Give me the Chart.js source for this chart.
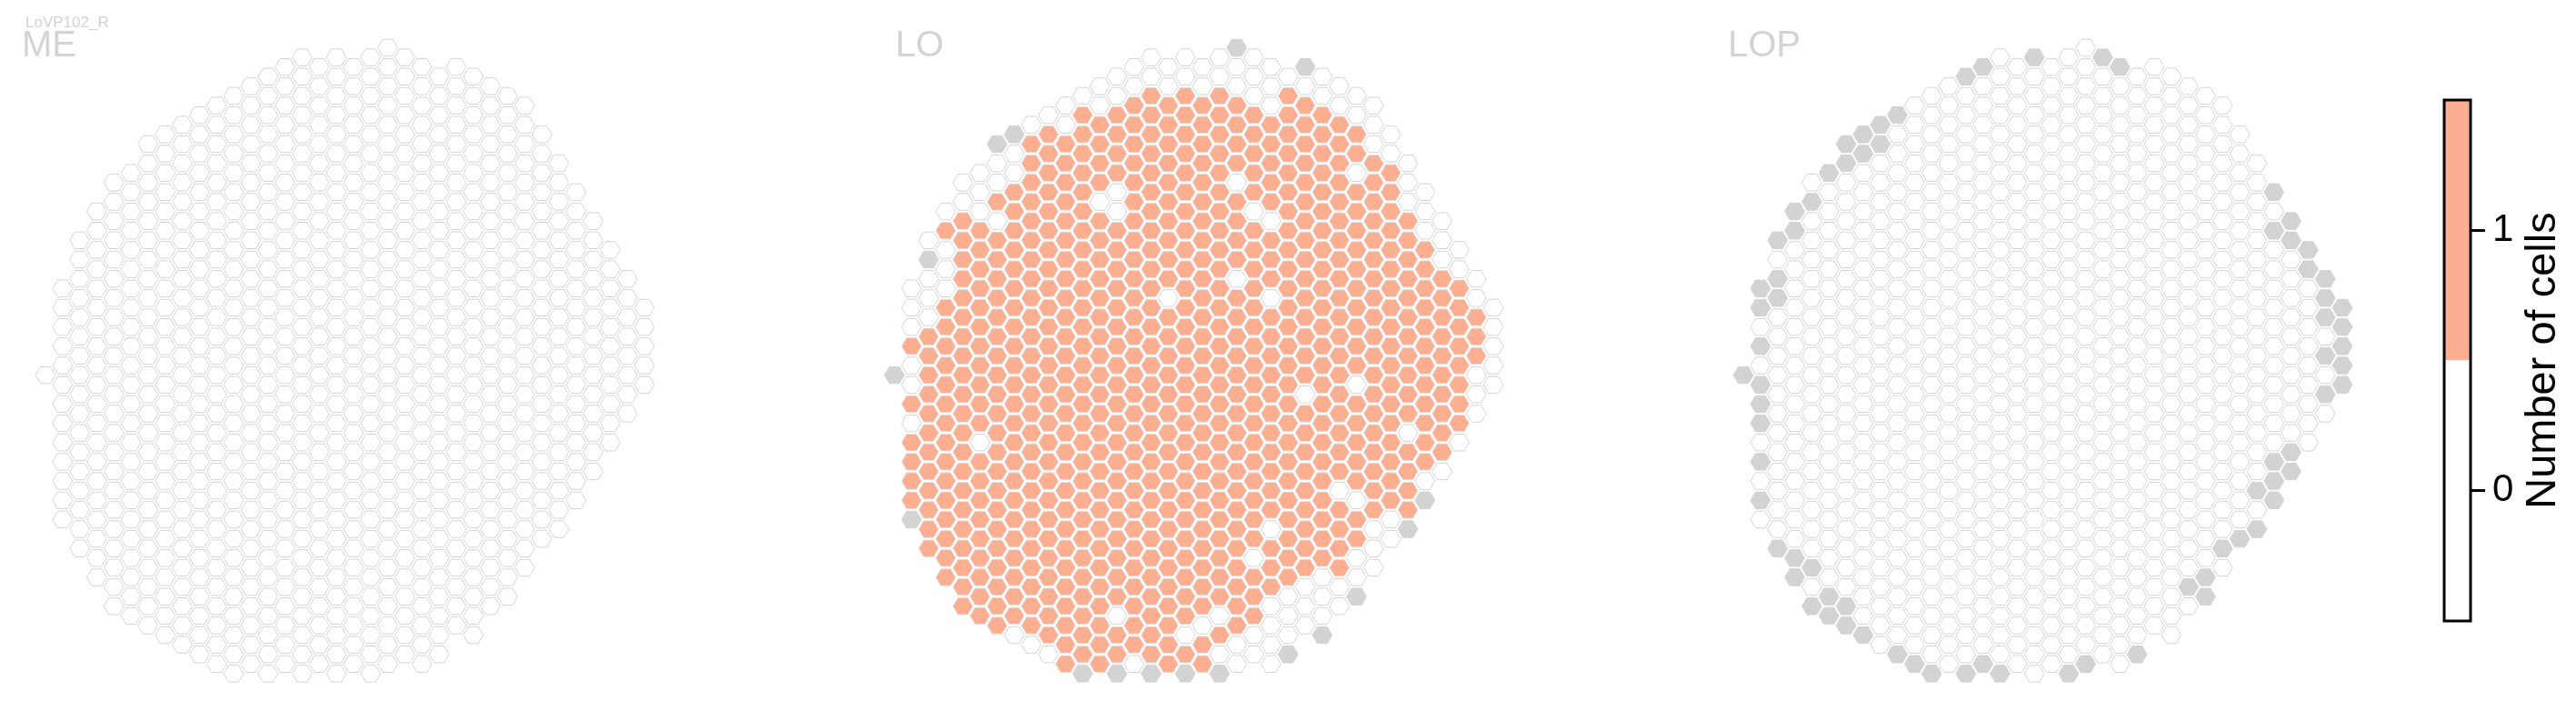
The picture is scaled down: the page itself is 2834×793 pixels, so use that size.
<!DOCTYPE html>
<html>
<head>
<meta charset="utf-8">
<title>LoVP102_R</title>
<script src="https://cdn.jsdelivr.net/npm/chart.js@4.4.1/dist/chart.umd.min.js"></script>
<style>
  body { margin: 0; background: #fff; }
  #wrap { position: relative; width: 2834px; height: 793px; overflow: hidden; }
  #wrap canvas { position: absolute; top: 0; }
</style>
</head>
<body>
<div id="wrap">
  <canvas id="panelME" width="780" height="793" style="left:0px"></canvas>
  <canvas id="panelLO" width="780" height="793" style="left:934px"></canvas>
  <canvas id="panelLOP" width="780" height="793" style="left:1868px"></canvas>
  <canvas id="colorbar" width="234" height="793" style="left:2600px"></canvas>
</div>
<script>
const neuron = 'LoVP102_R'
const panelNames = ['ME', 'LO', 'LOP']

// first (top) row of each hex column, doubled row index, columns left -> right
const colTop = [34, 25, 20, 17, 14, 13, 10, 9, 8, 7, 6, 5, 4, 3, 2, 1, 2, 1, 2, 1, 0, 1, 2, 3, 2, 3, 4, 5, 6, 9, 12, 15, 18, 21, 24, 27]

// one string per column, top -> bottom: 0 / 1 = number of cells, x = no data
// (spaces are only there to make counting easier)
const meCells = [
    '0',
    '00000 00000 000',
    '00000 00000 00000 00',
    '00000 00000 00000 00000',
    '00000 00000 00000 00000 000',
    '00000 00000 00000 00000 0000',
    '00000 00000 00000 00000 00000 0',
    '00000 00000 00000 00000 00000 00',
    '00000 00000 00000 00000 00000 000',
    '00000 00000 00000 00000 00000 0000',
    '00000 00000 00000 00000 00000 00000',
    '00000 00000 00000 00000 00000 00000 0',
    '00000 00000 00000 00000 00000 00000 0',
    '00000 00000 00000 00000 00000 00000 00',
    '00000 00000 00000 00000 00000 00000 00',
    '00000 00000 00000 00000 00000 00000 000',
    '00000 00000 00000 00000 00000 00000 00',
    '00000 00000 00000 00000 00000 00000 000',
    '00000 00000 00000 00000 00000 00000 00',
    '00000 00000 00000 00000 00000 00000 000',
    '00000 00000 00000 00000 00000 00000 000',
    '00000 00000 00000 00000 00000 00000 00',
    '00000 00000 00000 00000 00000 00000 00',
    '00000 00000 00000 00000 00000 00000 0',
    '00000 00000 00000 00000 00000 00000',
    '00000 00000 00000 00000 00000 00000',
    '00000 00000 00000 00000 00000 000',
    '00000 00000 00000 00000 00000 00',
    '00000 00000 00000 00000 00000',
    '00000 00000 00000 00000 00',
    '00000 00000 00000 00000',
    '00000 00000 00000 00',
    '00000 00000 0000',
    '00000 00000 0',
    '00000 000',
    '00000',
]

const loCells = [
    'x',
    '00010 01011 11x',
    '0x000 11111 11111 11',
    '01000 11111 11111 11111',
    '00111 11111 11111 11111 111',
    '00011 11111 11110 11111 1111',
    'x0010 11111 11111 11111 11111 1',
    'x0011 11111 11111 11111 11111 10',
    '01111 11111 11111 11111 11111 110',
    '01111 11111 11111 11111 11111 1110',
    '00111 11111 11111 11111 11111 11111',
    '01111 11111 11111 11111 11111 11111 x',
    '00111 10111 11111 11111 11111 11111 1',
    '00111 10011 11111 11111 11111 11101 1x',
    '00111 11111 11111 11111 11111 11111 10',
    '00111 11111 11111 11111 11111 11111 11x',
    '00111 11111 11011 11111 11111 11111 11',
    '00111 11111 11111 11111 11111 11111 01x',
    '00111 11111 11111 11111 11111 11110 11',
    '00111 11111 11111 11111 11111 11110 10x',
    'x0011 11011 11011 11111 11111 11111 100',
    '00011 11101 11111 11111 11111 10111 00',
    '00011 11101 11011 11111 11110 11100 00',
    '01111 11111 11111 11111 11111 11000 x',
    'x0111 11111 11111 11011 11111 11000',
    '00111 11111 11111 11111 11111 1000x',
    '00111 11111 11111 11111 10111 100',
    '00110 11111 11111 01111 10110 0x',
    '00011 11111 11111 11111 11000',
    '00111 11111 11111 11111 00',
    '00011 11111 11110 1111x',
    '00011 11111 11111 0x',
    '00011 11111 1110',
    '00111 11111 0',
    '00111 000',
    '00000',
]

const lopCells = [
    'x',
    'xx0x0 xxx0x 0x0',
    'x0xx0 00000 00000 0x',
    'xx000 00000 00000 000xx',
    '0x000 00000 00000 00000 x0x',
    'x0000 00000 00000 00000 00xx',
    'xx000 00000 00000 00000 0000x x',
    'xx000 00000 00000 00000 00000 0x',
    'xx000 00000 00000 00000 00000 000',
    'x0000 00000 00000 00000 00000 000x',
    '00000 00000 00000 00000 00000 0000x',
    '00000 00000 00000 00000 00000 00000 x',
    '00000 00000 00000 00000 00000 00000 0',
    'x0000 00000 00000 00000 00000 00000 0x',
    'x0000 00000 00000 00000 00000 00000 0x',
    '00000 00000 00000 00000 00000 00000 00x',
    '00000 00000 00000 00000 00000 00000 00',
    'x0000 00000 00000 00000 00000 00000 000',
    '00000 00000 00000 00000 00000 00000 00',
    '00000 00000 00000 00000 00000 00000 00x',
    '00000 00000 00000 00000 00000 00000 00x',
    'x0000 00000 00000 00000 00000 00000 00',
    'x0000 00000 00000 00000 00000 00000 00',
    '00000 00000 00000 00000 00000 00000 x',
    '00000 00000 00000 00000 00000 00000',
    '00000 00000 00000 00000 00000 00000',
    '00000 00000 00000 00000 00000 0x0',
    '00000 00000 00000 00000 00000 xx',
    '00000 00000 00000 00000 000x0',
    '00000 00000 00000 00000 0x',
    '00000 00000 00000 00x0x',
    'x0x00 00000 0000x xx',
    'xx000 00000 00xx',
    'xx000 00000 0',
    'xxx0x 0x0',
    'xxxxx',
]

// colorbar
const cbBounds = [-0.5, 0.5, 1.5]
const cbColors = ['#ffffff', '#fcae91']
const cbTicks = [0, 1]
const cbLabel = 'Number of cells'

const font = "'Liberation Sans', Arial, sans-serif"
const cellFill = { '0': '#ffffff', '1': '#fcae91', 'x': '#d3d3d3' }
const cellEdge = { '0': '#d4d4d4', '1': '#e2e2e2', 'x': '#d3d3d3' }

function cellsToDatasets(cols) {
    const groups = { '0': [], '1': [], 'x': [] }
    cols.forEach((col, c) => {
        const s = col.replace(/ /g, '')
        if (s.length !== meCells[c].replace(/ /g, '').length) console.warn('column length', c)
        s.split('').forEach((v, k) => {
            groups[v].push({ x: c, y: colTop[c] + 2 * k })
        })
    })
    return ['0', '1', 'x'].map(v => ({
        label: v,
        data: groups[v],
        hexFill: cellFill[v],
        hexEdge: cellEdge[v],
        pointRadius: 0,
    }))
}

// draws a flat-top hexagon round every point, size taken from the scales
const hexPlugin = {
    id: 'hexCells',
    afterDatasetsDraw(chart) {
        const ctx = chart.ctx
        const xs = chart.scales.x
        const ys = chart.scales.y
        const sx = Math.abs(xs.getPixelForValue(1) - xs.getPixelForValue(0))
        const sy = Math.abs(ys.getPixelForValue(1) - ys.getPixelForValue(0))
        const a = 0.87 * sx * 2 / 3
        const b = 0.87 * sy
        chart.data.datasets.forEach((ds, i) => {
            const meta = chart.getDatasetMeta(i)
            ctx.save()
            ctx.fillStyle = ds.hexFill
            ctx.strokeStyle = ds.hexEdge
            ctx.lineWidth = 1
            meta.data.forEach(pt => {
                ctx.beginPath()
                ctx.moveTo(pt.x - a, pt.y)
                ctx.lineTo(pt.x - a / 2, pt.y - b)
                ctx.lineTo(pt.x + a / 2, pt.y - b)
                ctx.lineTo(pt.x + a, pt.y)
                ctx.lineTo(pt.x + a / 2, pt.y + b)
                ctx.lineTo(pt.x - a / 2, pt.y + b)
                ctx.closePath()
                ctx.fill()
                ctx.stroke()
            })
            ctx.restore()
        })
    }
}

const titlePlugin = {
    id: 'panelTitle',
    afterDraw(chart, args, opts) {
        const ctx = chart.ctx
        ctx.save()
        ctx.fillStyle = '#d3d3d3'
        ctx.textAlign = 'left'
        ctx.textBaseline = 'alphabetic'
        ctx.font = '40px ' + font
        ctx.fillText(opts.text, opts.x, 62)
        if (opts.sub) {
            ctx.font = '17px ' + font
            ctx.fillText(opts.sub, 28, 30)
        }
        ctx.restore()
    }
}

function makePanel(id, cells, name, titleX, sub) {
    new Chart(document.getElementById(id), {
        type: 'scatter',
        data: { datasets: cellsToDatasets(cells) },
        options: {
            responsive: false,
            animation: false,
            devicePixelRatio: 1,
            events: [],
            layout: { padding: 0 },
            scales: {
                x: { type: 'linear', display: false, min: -2.655, max: 38.77 },
                y: { type: 'linear', display: false, reverse: true, min: -4.958, max: 69.92 }
            },
            plugins: {
                legend: { display: false },
                tooltip: { enabled: false },
                panelTitle: { text: name, x: titleX, sub: sub }
            }
        },
        plugins: [hexPlugin, titlePlugin]
    })
}

makePanel('panelME', meCells, panelNames[0], 24, neuron)
makePanel('panelLO', loCells, panelNames[1], 51, null)
makePanel('panelLOP', lopCells, panelNames[2], 33, null)

// colorbar
const cbPlugin = {
    id: 'cbFrame',
    afterDraw(chart) {
        const ctx = chart.ctx
        const area = chart.chartArea
        ctx.save()
        ctx.strokeStyle = '#000'
        ctx.lineWidth = 3
        ctx.strokeRect(area.left, area.top, area.right - area.left, area.bottom - area.top)
        ctx.translate(198, (area.top + area.bottom) / 2)
        ctx.rotate(-Math.PI / 2)
        ctx.fillStyle = '#000'
        ctx.font = '47px ' + font
        ctx.textAlign = 'center'
        ctx.textBaseline = 'middle'
        ctx.fillText(cbLabel, 0, 0)
        ctx.restore()
    }
}

new Chart(document.getElementById('colorbar'), {
    type: 'bar',
    data: {
        labels: [''],
        datasets: cbColors.map((col, i) => ({
            data: [[cbBounds[i], cbBounds[i + 1]]],
            backgroundColor: col,
            borderWidth: 0,
            grouped: false,
            barPercentage: 1,
            categoryPercentage: 1
        }))
    },
    options: {
        responsive: false,
        animation: false,
        devicePixelRatio: 1,
        events: [],
        layout: { padding: { left: 89, right: 56, top: 110, bottom: 110 } },
        scales: {
            x: { display: false },
            y: {
                position: 'right',
                min: cbBounds[0],
                max: cbBounds[cbBounds.length - 1],
                afterBuildTicks: scale => { scale.ticks = cbTicks.map(v => ({ value: v })) },
                afterFit: scale => { scale.width = 60 },
                border: { display: false },
                grid: { drawOnChartArea: false, tickLength: 16, tickWidth: 3, tickColor: '#000' },
                ticks: { color: '#000', padding: 8, font: { size: 42, family: font } }
            }
        },
        plugins: {
            legend: { display: false },
            tooltip: { enabled: false }
        }
    },
    plugins: [cbPlugin]
})
</script>
</body>
</html>
